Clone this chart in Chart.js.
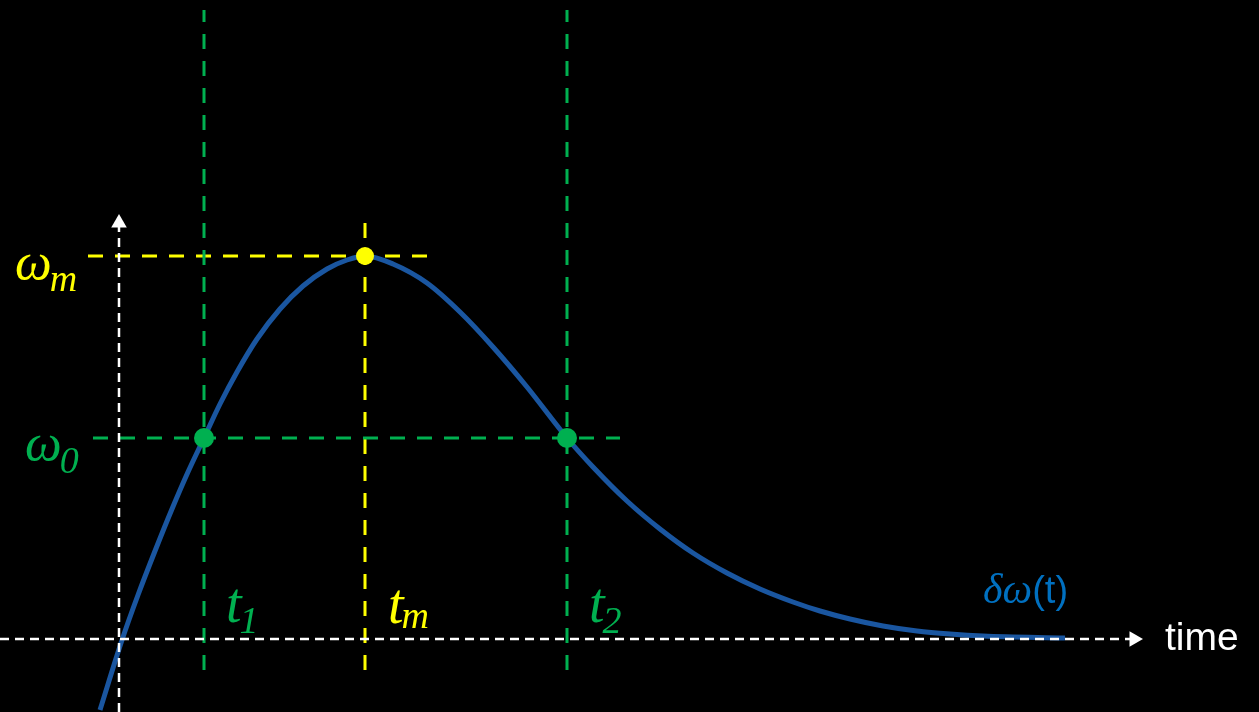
<!DOCTYPE html>
<html>
<head>
<meta charset="utf-8">
<script src="https://cdn.jsdelivr.net/npm/chart.js@4/dist/chart.umd.min.js"></script>
<style>
  html, body { margin: 0; padding: 0; background: #000; }
  #wrap { width: 1259px; height: 712px; }
</style>
</head>
<body>
<div id="wrap"><canvas id="curveChart"></canvas></div>
<script>
// response curve (time, delta omega)
const curveT = [-0.19, 0.03, 0.19, 0.36, 0.53, 0.69, 0.85, 1.01, 1.18, 1.38, 1.61, 1.84, 2.08, 2.28, 2.46,
  2.74, 3.08, 3.41, 3.74, 4.08, 4.48, 4.74, 5.08, 5.41, 5.74, 6.08, 6.41, 6.74, 7.01, 7.31, 7.64, 7.98, 8.31, 8.64, 9.46];
const curveW = [-0.71, -0.01, 0.44, 0.88, 1.30, 1.67, 2.01, 2.35, 2.67, 3.00, 3.30, 3.53, 3.70, 3.79, 3.83,
  3.75, 3.56, 3.27, 2.92, 2.52, 2.01, 1.72, 1.38, 1.10, 0.86, 0.66, 0.50, 0.37, 0.28, 0.20, 0.13, 0.08, 0.05, 0.03, 0.01];

// marked instants and levels
const t1 = 0.85, tm = 2.46, t2 = 4.48;
const w0 = 2.01, wm = 3.83;

const BLUE = '#1a56a0';
const TEXT_BLUE = '#0070c0';
const GREEN = '#00b050';
const YELLOW = '#ffff00';
const WHITE = '#ffffff';

// text labels: main symbol + subscript, anchored in data units
const symbolLabels = [
  { main: 'ω', sub: 'm', color: YELLOW, t: -1.04, w: 3.60, drop: 12, size: 52, subSize: 38 },
  { main: 'ω', sub: '0', color: GREEN, t: -0.94, w: 1.79, drop: 13, size: 52, subSize: 38 },
  { main: 't', sub: '1', color: GREEN, t: 1.07, w: 0.17, drop: 11, size: 56, subSize: 38 },
  { main: 't', sub: 'm', color: YELLOW, t: 2.69, w: 0.16, drop: 5, size: 56, subSize: 38 },
  { main: 't', sub: '2', color: GREEN, t: 4.70, w: 0.17, drop: 11, size: 56, subSize: 38 }
];

function seg(x0, y0, x1, y1) {
  return [{ x: x0, y: y0 }, { x: x1, y: y1 }];
}

const labelPlugin = {
  id: 'labels',
  afterDatasetsDraw(chart) {
    const { ctx, scales: { x, y } } = chart;
    ctx.save();
    ctx.textBaseline = 'alphabetic';
    ctx.textAlign = 'left';
    symbolLabels.forEach(l => {
      const px = x.getPixelForValue(l.t);
      const py = y.getPixelForValue(l.w);
      ctx.fillStyle = l.color;
      ctx.font = `italic ${l.size}px "Liberation Serif", "DejaVu Serif", serif`;
      ctx.fillText(l.main, px, py);
      const mw = ctx.measureText(l.main).width;
      ctx.font = `italic ${l.subSize}px "Liberation Serif", "DejaVu Serif", serif`;
      ctx.fillText(l.sub, px + mw - 2, py + l.drop);
    });

    // curve name
    let px = x.getPixelForValue(8.64);
    let py = y.getPixelForValue(0.36);
    ctx.fillStyle = TEXT_BLUE;
    ctx.font = 'italic 42px "Liberation Serif", "DejaVu Serif", serif';
    ctx.fillText('δω', px, py);
    px += ctx.measureText('δω').width;
    ctx.font = '38px "Liberation Sans", Arial, sans-serif';
    ctx.fillText('(t)', px, py);

    // axis name
    ctx.fillStyle = WHITE;
    ctx.font = '39px "Liberation Sans", Arial, sans-serif';
    ctx.fillText('time', x.getPixelForValue(10.46), y.getPixelForValue(-0.11));
    ctx.restore();
  }
};

const guide = (data, color, dash, width, order) => ({
  data, borderColor: color, borderWidth: width, borderDash: dash,
  pointRadius: 0, fill: false, tension: 0, order
});

const dot = (data, color, radius, order, extra) => Object.assign({
  data, showLine: false, pointRadius: radius, pointBackgroundColor: color,
  pointBorderWidth: 0, order
}, extra || {});

new Chart(document.getElementById('curveChart'), {
  type: 'line',
  data: {
    datasets: [
      // dots on the curve
      dot([{ x: tm, y: wm }], YELLOW, 9, 0),
      dot([{ x: t1, y: w0 }, { x: t2, y: w0 }], GREEN, 10, 0),
      // axes with arrow heads
      guide(seg(-1.19, 0, 10.15, 0), WHITE, [9, 6], 2.5, 1),
      guide(seg(0, -0.73, 0, 4.16), WHITE, [9, 6], 2.5, 1),
      dot([{ x: 10.15, y: 0 }], WHITE, 9, 1, { pointStyle: 'triangle', rotation: 90 }),
      dot([{ x: 0, y: 4.16 }], WHITE, 9, 1, { pointStyle: 'triangle', rotation: 0 }),
      // guide lines
      guide(seg(t1, -0.31, t1, 6.29), GREEN, [15, 12], 3, 2),
      guide(seg(t2, -0.31, t2, 6.29), GREEN, [15, 12], 3, 2),
      guide(seg(-0.26, w0, 5.01, w0), GREEN, [15, 12], 3, 2),
      guide(seg(tm, -0.31, tm, 4.17), YELLOW, [15, 12], 3, 2),
      guide(seg(-0.31, wm, 3.09, wm), YELLOW, [15, 12], 3, 2),
      // the response itself
      {
        data: curveT.map((t, i) => ({ x: t, y: curveW[i] })),
        borderColor: BLUE, borderWidth: 5, pointRadius: 0,
        cubicInterpolationMode: 'monotone', fill: false, order: 3
      }
    ]
  },
  options: {
    responsive: true,
    maintainAspectRatio: false,
    animation: false,
    layout: { padding: 0, autoPadding: false },
    plugins: { legend: { display: false }, tooltip: { enabled: false } },
    scales: {
      x: { type: 'linear', min: -1.19, max: 11.40, display: false },
      y: { type: 'linear', min: -0.73, max: 6.39, display: false }
    }
  },
  plugins: [labelPlugin]
});
</script>
</body>
</html>
